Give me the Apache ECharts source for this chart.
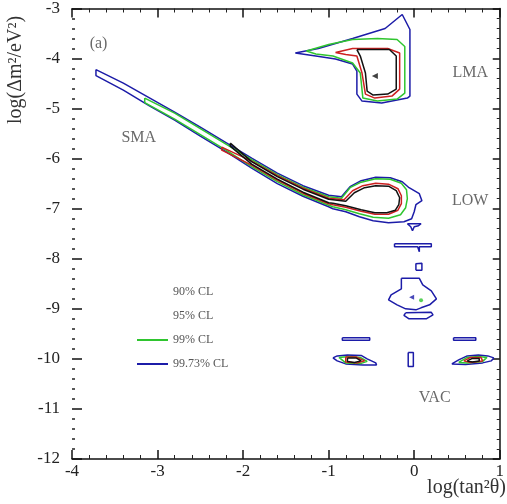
<!DOCTYPE html>
<html>
<head>
<meta charset="utf-8">
<script src="https://cdn.jsdelivr.net/npm/echarts@6/dist/echarts.min.js"></script>
<style>
  html, body { margin: 0; padding: 0; background: #fff; }
  #chart { width: 507px; height: 504px; }
</style>
</head>
<body>
<div id="chart"></div>
<script>
// contour plot: log(tan^2 theta) vs log(dm^2), four CL levels
var serif = '"Liberation Serif", "DejaVu Serif", serif';

var xRange = [-4, 1];
var yRange = [-12, -3];
var clNames = ['90% CL', '95% CL', '99% CL', '99.73% CL'];
var clColors = ['#111111', '#cc2020', '#2fc52f', '#1c1ca8'];

// --- LMA island ---
var lmaBlue = [[-1.39,-3.89],[-1.12,-3.80],[-0.72,-3.60],[-0.34,-3.40],[-0.14,-3.12],[-0.05,-3.42],[-0.05,-4.75],
  [-0.08,-4.79],[-0.38,-4.89],[-0.61,-4.85],[-0.67,-4.71],[-0.67,-4.25],[-0.72,-4.11],[-0.92,-4.01],[-1.15,-3.95]];
var lmaGreen = [[-1.26,-3.85],[-1.00,-3.72],[-0.72,-3.62],[-0.43,-3.60],[-0.20,-3.62],[-0.11,-3.76],[-0.11,-4.69],
  [-0.20,-4.81],[-0.43,-4.85],[-0.60,-4.79],[-0.63,-4.29],[-0.72,-4.09],[-0.95,-3.95],[-1.15,-3.91]];
var lmaRed = [[-0.92,-3.88],[-0.72,-3.80],[-0.31,-3.80],[-0.17,-3.89],[-0.17,-4.61],[-0.26,-4.75],[-0.46,-4.79],
  [-0.57,-4.71],[-0.61,-4.29],[-0.67,-3.95],[-0.80,-3.92]];
var lmaBlack = [[-0.67,-3.82],[-0.29,-3.82],[-0.21,-3.95],[-0.21,-4.61],[-0.31,-4.71],[-0.48,-4.73],[-0.55,-4.65],
  [-0.57,-4.29],[-0.63,-3.95]];

// --- SMA band joined to LOW loop ---
var smaBlue = [[-3.72,-4.22],[-3.40,-4.49],[-3.10,-4.78],[-2.80,-5.07],[-2.50,-5.37],[-2.20,-5.68],[-1.90,-5.99],
  [-1.60,-6.29],[-1.30,-6.54],[-1.00,-6.73],[-0.85,-6.76],[-0.75,-6.56],[-0.62,-6.44],[-0.45,-6.37],[-0.28,-6.38],
  [-0.14,-6.46],[-0.06,-6.58],[0.06,-6.70],[0.09,-6.84],[0.02,-6.92],[0.00,-7.06],[-0.03,-7.20],[-0.12,-7.26],
  [-0.30,-7.28],[-0.48,-7.24],[-0.64,-7.16],[-0.80,-7.06],[-0.95,-7.00],[-1.00,-6.96],[-1.30,-6.75],[-1.60,-6.50],
  [-1.90,-6.19],[-2.20,-5.86],[-2.50,-5.55],[-2.80,-5.23],[-3.10,-4.94],[-3.40,-4.63],[-3.72,-4.34]];
var smaGreen = [[-3.15,-4.79],[-2.80,-5.09],[-2.50,-5.40],[-2.20,-5.71],[-1.90,-6.02],[-1.60,-6.32],[-1.30,-6.57],
  [-1.00,-6.76],[-0.85,-6.79],[-0.75,-6.58],[-0.62,-6.47],[-0.45,-6.40],[-0.28,-6.41],[-0.15,-6.49],[-0.09,-6.62],
  [-0.08,-6.80],[-0.10,-6.98],[-0.16,-7.12],[-0.30,-7.19],[-0.48,-7.17],[-0.64,-7.10],[-0.80,-7.02],[-0.95,-6.96],
  [-1.00,-6.93],[-1.30,-6.72],[-1.60,-6.46],[-1.90,-6.16],[-2.20,-5.83],[-2.50,-5.52],[-2.80,-5.21],[-3.15,-4.88]];
var smaRed = [[-2.25,-5.77],[-1.90,-6.05],[-1.60,-6.34],[-1.30,-6.59],[-1.00,-6.79],[-0.82,-6.82],[-0.72,-6.64],
  [-0.60,-6.54],[-0.45,-6.49],[-0.30,-6.51],[-0.19,-6.60],[-0.15,-6.74],[-0.15,-6.90],[-0.19,-7.03],[-0.30,-7.11],
  [-0.46,-7.11],[-0.62,-7.05],[-0.80,-6.97],[-0.95,-6.92],[-1.00,-6.90],[-1.30,-6.69],[-1.60,-6.43],[-1.90,-6.13],
  [-2.25,-5.83]];
var smaBlack = [[-2.15,-5.69],[-1.90,-6.06],[-1.60,-6.36],[-1.30,-6.61],[-1.00,-6.81],[-0.80,-6.85],[-0.70,-6.68],
  [-0.58,-6.58],[-0.45,-6.54],[-0.30,-6.55],[-0.21,-6.64],[-0.17,-6.78],[-0.18,-6.92],[-0.22,-7.03],[-0.32,-7.08],
  [-0.46,-7.08],[-0.62,-7.02],[-0.80,-6.94],[-0.95,-6.89],[-1.00,-6.88],[-1.30,-6.67],[-1.60,-6.41],[-1.90,-6.11],
  [-2.15,-5.75]];

// --- quasi-vacuum pieces (blue only) ---
var qvTee = [[-0.08,-7.30],[0.08,-7.30],[0.05,-7.34],[0.00,-7.36],[-0.02,-7.44],[-0.04,-7.36]];
var qvBar = [[-0.23,-7.70],[0.20,-7.70],[0.20,-7.76],[0.06,-7.76],[0.06,-7.86],[0.04,-7.76],[-0.23,-7.76]];
var qvHook = [[0.02,-8.23],[0.02,-8.10],[0.09,-8.09],[0.09,-8.23]];
var qvBlob = [[-0.15,-8.39],[0.06,-8.39],[0.10,-8.52],[0.20,-8.64],[0.26,-8.80],[0.18,-8.92],[0.08,-8.98],
  [0.02,-9.02],[-0.10,-9.00],[-0.20,-8.92],[-0.30,-8.82],[-0.27,-8.72],[-0.15,-8.60]];
var qvFoot = [[-0.10,-9.08],[0.20,-9.07],[0.22,-9.12],[0.14,-9.20],[-0.06,-9.20],[-0.12,-9.13]];

// --- vacuum islands ---
var vacBarL = [[-0.84,-9.58],[-0.52,-9.58],[-0.52,-9.63],[-0.84,-9.63]];
var vacBarR = [[0.46,-9.58],[0.72,-9.58],[0.72,-9.63],[0.46,-9.63]];
var vacMid = [[-0.07,-9.87],[-0.01,-9.87],[-0.01,-10.15],[-0.07,-10.15]];
var vacLBlue = [[-0.95,-9.98],[-0.90,-9.94],[-0.78,-9.92],[-0.62,-9.93],[-0.55,-10.00],[-0.45,-10.08],[-0.44,-10.12],
  [-0.60,-10.12],[-0.80,-10.10],[-0.90,-10.04]];
var vacLGreen = [[-0.88,-9.97],[-0.76,-9.95],[-0.63,-9.97],[-0.55,-10.05],[-0.62,-10.09],[-0.80,-10.08]];
var vacLRed = [[-0.80,-9.96],[-0.68,-9.96],[-0.58,-10.04],[-0.66,-10.08],[-0.80,-10.06]];
var vacLBlack = [[-0.78,-9.98],[-0.68,-9.98],[-0.62,-10.04],[-0.70,-10.07],[-0.78,-10.05]];
var vacRBlue = [[0.44,-10.10],[0.52,-10.02],[0.62,-9.94],[0.75,-9.92],[0.86,-9.94],[0.93,-9.98],[0.90,-10.04],
  [0.80,-10.08],[0.60,-10.11]];
var vacRGreen = [[0.52,-10.07],[0.62,-9.97],[0.75,-9.95],[0.85,-9.97],[0.80,-10.05],[0.62,-10.08]];
var vacRRed = [[0.58,-10.04],[0.66,-9.97],[0.78,-9.97],[0.80,-10.04],[0.66,-10.07]];
var vacRBlack = [[0.62,-10.04],[0.68,-9.99],[0.76,-9.99],[0.76,-10.04],[0.68,-10.06]];

var bestFits = [[-0.46, -4.35]];
var qvPoints = [[-0.03, -8.77]];
var qvGreenPoints = [[0.08, -8.83]];

var regionNames = ['(a)', 'SMA', 'LMA', 'LOW', 'VAC'];
var regionPos = [[-3.69, -3.70], [-3.22, -5.58], [0.655, -4.29], [0.655, -6.84], [0.24, -10.77]];

var shapesByCL = [
  [lmaBlack, smaBlack, vacLBlack, vacRBlack],
  [lmaRed, smaRed, vacLRed, vacRRed],
  [lmaGreen, smaGreen, vacLGreen, vacRGreen],
  [lmaBlue, smaBlue, qvTee, qvBar, qvHook, qvBlob, qvFoot, vacBarL, vacBarR, vacMid, vacLBlue, vacRBlue]
];

function closed(pts) { return pts.concat([pts[0]]); }

var series = [];
// draw outer (blue) first so inner levels sit on top
for (var i = clNames.length - 1; i >= 0; i--) {
  shapesByCL[i].forEach(function(shape) {
    series.push({
      name: clNames[i],
      type: 'line',
      data: closed(shape),
      symbol: 'none',
      silent: true,
      lineStyle: { color: clColors[i], width: 1.5 },
      itemStyle: { color: clColors[i] },
      z: 2 + (3 - i)
    });
  });
}
series.push({
  type: 'scatter', data: bestFits, symbol: 'triangle', symbolRotate: 90, symbolSize: 6,
  itemStyle: { color: '#111' }, z: 10
});
series.push({
  type: 'scatter', data: qvPoints, symbol: 'triangle', symbolRotate: 90, symbolSize: 5,
  itemStyle: { color: clColors[3] }, z: 10
});
series.push({
  type: 'scatter', data: qvGreenPoints, symbol: 'circle', symbolSize: 4,
  itemStyle: { color: clColors[2] }, z: 10
});
series.push({
  type: 'scatter',
  data: regionNames.map(function(n, k) { return { name: n, value: regionPos[k] }; }),
  symbolSize: 1,
  itemStyle: { color: 'rgba(0,0,0,0)' },
  label: {
    show: true, position: 'inside', formatter: '{b}',
    fontFamily: serif, fontSize: 16, color: '#444'
  },
  z: 11
});

var chart = echarts.init(document.getElementById('chart'), null, { renderer: 'canvas' });

var tickLabel = { fontFamily: serif, fontSize: 17, color: '#222' };
chart.setOption({
  animation: false,
  grid: { left: 72, right: 2, top: 7, bottom: 45 },
  legend: {
    orient: 'vertical', left: 132, top: 280,
    itemWidth: 31, itemHeight: 2, itemGap: 10, icon: 'rect',
    textStyle: { fontFamily: serif, fontSize: 12, color: '#555', lineHeight: 14 },
    data: [
      { name: clNames[0], itemStyle: { opacity: 0 } },
      { name: clNames[1], itemStyle: { opacity: 0 } },
      clNames[2],
      clNames[3]
    ],
    selectedMode: false
  },
  xAxis: [{
    type: 'value', min: xRange[0], max: xRange[1], interval: 1, position: 'bottom',
    axisLine: { onZero: false, lineStyle: { color: '#111', width: 1.5 } },
    axisTick: { inside: true, length: 9, lineStyle: { color: '#111', width: 1.5 } },
    minorTick: { show: true, splitNumber: 5, length: 4, lineStyle: { color: '#222' } },
    splitLine: { show: false },
    axisLabel: Object.assign({ margin: 4 }, tickLabel)
  }, {
    type: 'value', min: xRange[0], max: xRange[1], interval: 1, position: 'top',
    axisLine: { onZero: false, lineStyle: { color: '#111', width: 1.5 } },
    axisTick: { inside: true, length: 9, lineStyle: { color: '#111', width: 1.5 } },
    minorTick: { show: true, splitNumber: 5, length: 4, lineStyle: { color: '#222' } },
    splitLine: { show: false },
    axisLabel: { show: false }
  }],
  yAxis: [{
    type: 'value', min: yRange[0], max: yRange[1], interval: 1, position: 'left',
    axisLine: { show: false, onZero: false },
    axisTick: { show: true, inside: true, length: 10, lineStyle: { color: '#111', width: 1.5 } },
    minorTick: { show: true, splitNumber: 5, length: 3, lineStyle: { color: '#222', width: 1.5 } },
    splitLine: { show: false },
    axisLabel: Object.assign({ margin: 12 }, tickLabel)
  }, {
    type: 'value', min: yRange[0], max: yRange[1], interval: 1, position: 'right',
    axisLine: { show: true, onZero: false, lineStyle: { color: '#111', width: 1.5 } },
    axisTick: { inside: true, length: 7, lineStyle: { color: '#111', width: 1.5 } },
    minorTick: { show: true, splitNumber: 5, length: 3, lineStyle: { color: '#222' } },
    splitLine: { show: false },
    axisLabel: { show: false }
  }],
  graphic: [{
    type: 'text', x: 16, y: 70, rotation: Math.PI / 2,
    style: { text: 'log(Δm²/eV²)', fontFamily: serif, fontSize: 20, fill: '#333', align: 'center', verticalAlign: 'middle' }
  }, {
    type: 'text', right: 1, top: 478,
    style: { text: 'log(tan²θ)', fontFamily: serif, fontSize: 20, fill: '#333' }
  }],
  series: series
});
window.addEventListener('resize', function() { chart.resize(); });
</script>
</body>
</html>
